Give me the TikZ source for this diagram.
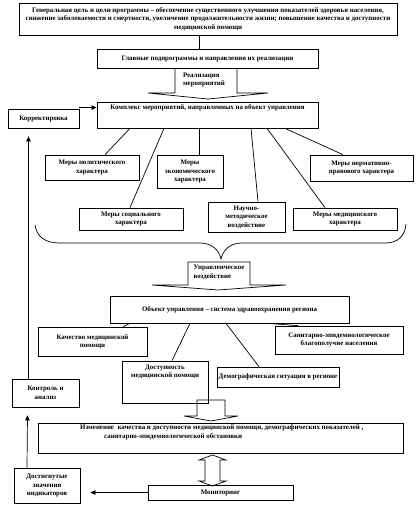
\documentclass[tikz,border=0pt]{standalone}
\usepackage{fontspec}
\setmainfont{Liberation Serif}
\usetikzlibrary{arrows.meta,calc}
\begin{document}
\begin{tikzpicture}[x=1pt,y=-1pt,
  every node/.style={font=\fontsize{6.9}{8.5}\selectfont\bfseries, inner sep=1pt},
  box/.style={draw, line width=0.7pt, align=center},
  ln/.style={line width=0.7pt},
  arr/.style={line width=0.7pt,-{Triangle[length=5pt,width=4.5pt]}},
]
\useasboundingbox (0,0) rectangle (416,507);

% boxes
\node[box, minimum width=378pt, minimum height=32pt] (goal) at (208,19) {Генеральная цель и цели программы – обеспечение существенного улучшения показателей здоровья населения,\\снижение заболеваемости и смертности, увеличение продолжительности жизни; повышение качества и доступности\\медицинской помощи};
\node[box, minimum width=221pt, minimum height=19pt] (sub) at (207.5,58.5) {Главные подпрограммы и направления их реализации};
\node[box, minimum width=221pt, minimum height=26pt] (kompl) at (207.5,115) {};
\node[anchor=north] (komplt) at ([yshift=-1.5pt]kompl.north) {Комплекс мероприятий, направленных на объект управления};
\node[box, minimum width=71pt, minimum height=19pt] (korr) at (43.5,118.5) {Корректировка};

\node[box, minimum width=94pt, minimum height=25pt] (polit) at (92,167.5) {Меры политического\\характера};
\node[box, minimum width=66pt, minimum height=33pt] (econ) at (190,171.5) {Меры\\экономического\\характера};
\node[box, minimum width=103pt, minimum height=26pt] (norm) at (361.5,168) {Меры нормативно-\\правового характера};
\node[box, minimum width=104pt, minimum height=22pt] (soc) at (131,219) {Меры социального\\характера};
\node[box, minimum width=77pt, minimum height=30pt] (nauch) at (246.5,217) {Научно-\\методическое\\воздействие};
\node[box, minimum width=104pt, minimum height=22pt] (med) at (345,219) {Меры медицинского\\характера};

\node[box, minimum width=239pt, minimum height=27pt] (obj) at (229.5,309.5) {Объект управления – система здравоохранения региона};
\node[box, minimum width=109pt, minimum height=29pt] (kach) at (92.5,341.5) {Качество медицинской\\помощи};
\node[box, minimum width=86pt, minimum height=42pt] (dost) at (165,382) {};
\node[anchor=north, align=center] (dostt) at ([yshift=-3pt]dost.north) {Доступность\\медицинской помощи};
\node[box, minimum width=122pt, minimum height=20pt] (demog) at (278,377) {Демографическая ситуация в регионе};
\node[box, minimum width=128pt, minimum height=28pt] (sanit) at (339,340) {Санитарно-эпидемиологическое\\благополучие населения};
\node[box, minimum width=67pt, minimum height=28pt] (kontrol) at (45.5,393) {Контроль и\\анализ};

\node[box, minimum width=365pt, minimum height=30pt] (izm) at (220.5,438) {};
\node[anchor=north west, align=left] (izmt) at (79,424) {Изменение\ \ качества и доступности медицинской помощи, демографических показателей ,\\\hspace*{24pt}санитарно-эпидемиологической обстановки};
\node[box, minimum width=145pt, minimum height=15pt] (monit) at (220.5,492.5) {Мониторинг};
\node[box, minimum width=66pt, minimum height=35pt] (dostig) at (47,485.5) {Достигнутые\\значения\\индикаторов};

% plain connectors
\draw[ln] ([xshift=-9pt]goal.south) -- ([xshift=-8.5pt]sub.north);

\draw[ln] ([xshift=-77.5pt]kompl.south) -- ([xshift=13pt]polit.north);
\draw[ln] ([xshift=-43.5pt]kompl.south) -- ([xshift=-1pt]soc.north);
\draw[ln] ([xshift=-8.5pt]kompl.south) -- ([xshift=9pt]econ.north);
\draw[ln] ([xshift=43.5pt]kompl.south) -- ([xshift=11.5pt]nauch.north);
\draw[ln] ([xshift=59.5pt]kompl.south) -- ([xshift=-20pt]med.north);
\draw[ln] ([xshift=77.5pt]kompl.south) -- ([xshift=-18.5pt]norm.north);

\draw[ln] ([xshift=-99.5pt]obj.south) -- ([xshift=30.5pt]kach.north);
\draw[ln] ([xshift=-39.5pt]obj.south) -- ([xshift=7pt]dost.north);
\draw[ln] ([xshift=-3.5pt]obj.south) -- ([xshift=-19pt]demog.north);
\draw[ln] ([xshift=38.5pt]obj.south) -- ([xshift=-41pt]sanit.north);

% arrows
\draw[arr] (korr.east |- komplt.center) -- (kompl.west |- komplt.center);
\draw[arr] ([xshift=-17pt]kontrol.north) -- ([xshift=-15pt,yshift=-8pt]korr.south);
\draw[arr] ([xshift=-20pt]dostig.north) -- ([xshift=-18pt,yshift=-8pt]kontrol.south);
\draw[arr] (monit.west) -- ([xshift=10pt]dostig.east |- monit.west);

% block arrow: realisation
\draw[ln] (175,68) -- (175,93) -- (148,93) -- (208,99) -- (268,93) -- (237,93) -- (237,68);
\node[align=left] (real) at (204,80) {Реализация\\мероприятий};

% brace
\draw[ln] (35,225) .. controls (37,237) and (45,243) .. (60,243) -- (200,243)
  .. controls (212,243) and (219,250) .. (221,259)
  .. controls (223,250) and (230,243) .. (242,243) -- (385,243)
  .. controls (398,243) and (405,236) .. (406,224);

% block arrow: management
\draw[ln] (188,285) -- (188,262) -- (250,262) -- (250,285) -- (286,285) -- (218,290) -- (152,285) -- cycle;
\node[align=left] (upr) at (219,272.5) {Управленческое\\воздействие};

% block arrow into change
\draw[ln] (197,416) -- (197,400) -- (225,400) -- (225,416) -- (238,416) -- (211,421) -- (184,416) -- cycle;

% double arrow monitoring
\draw[ln] (212.5,455) -- (226,460) -- (220,460) -- (220,481) -- (226,481) -- (212.5,486) -- (199,481) -- (205,481) -- (205,460) -- (199,460) -- cycle;

\end{tikzpicture}
\end{document}
